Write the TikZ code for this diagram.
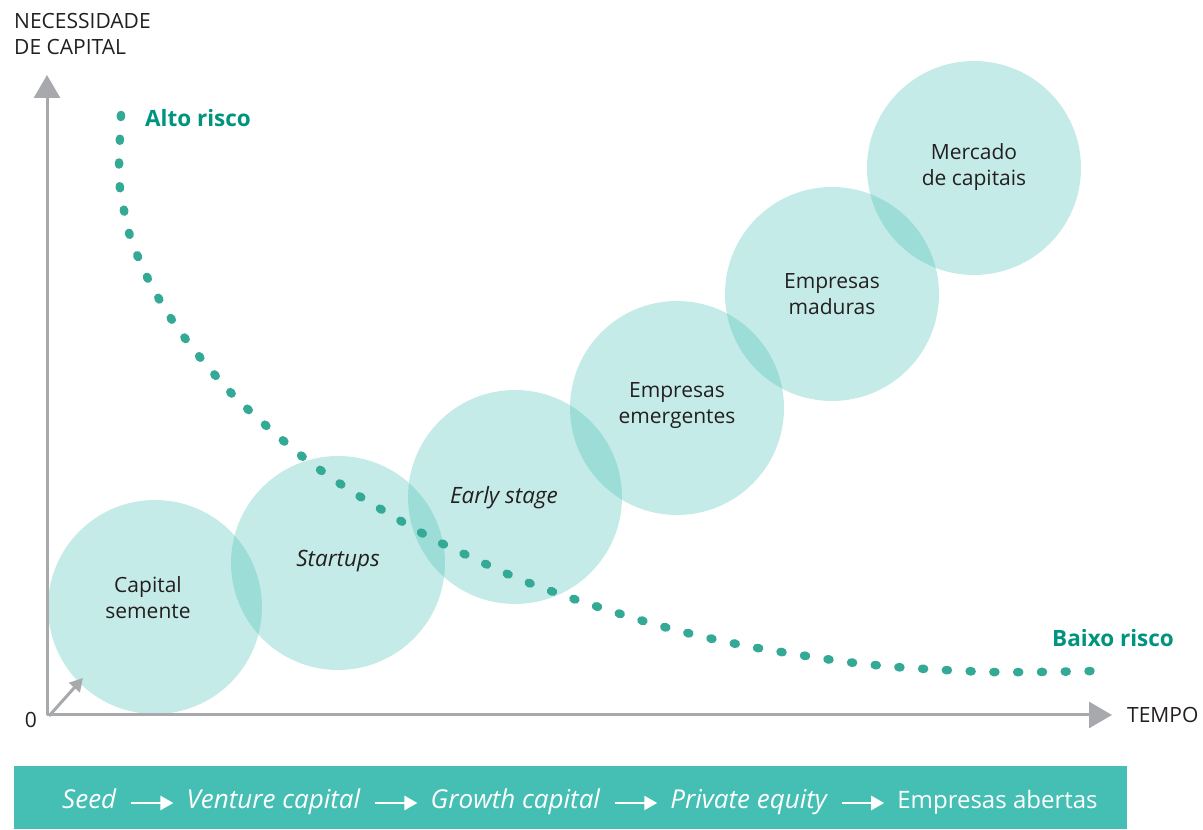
\documentclass[tikz,border=0pt]{standalone}
\usepackage{fontspec}
\setmainfont{Open Sans}
\usetikzlibrary{arrows.meta,positioning}

\definecolor{axisgray}{RGB}{167,169,172}
\definecolor{barteal}{RGB}{69,191,180}
\definecolor{dotteal}{RGB}{52,170,150}
\definecolor{risktext}{RGB}{0,148,126}
\definecolor{inktext}{RGB}{35,31,32}

\tikzset{
    bubble/.style={circle, fill=barteal, fill opacity=0.31, minimum size=214pt, inner sep=0pt},
    bubbletext/.style={align=center, text=inktext, inner sep=0pt, font=\fontsize{21}{26}\selectfont},
    slanttext/.style={bubbletext, font=\fontsize{22.5}{26}\selectfont\itshape},
    axis/.style={axisgray, line width=3pt, -{Triangle[length=23pt,width=26pt]}},
    dotcurve/.style={dotteal, line width=8.5pt, line cap=round, dash pattern=on 2pt off 21.78pt},
    risklabel/.style={anchor=west, inner sep=0pt, text=risktext, font=\fontsize{22.5}{26}\selectfont\bfseries},
    axislabel/.style={inner sep=0pt, text=inktext, font=\fontsize{21}{26}\selectfont},
    barlabel/.style={text=white, inner sep=0pt, text height=18pt, text depth=6pt, font=\fontsize{26}{30}\selectfont\itshape},
    flowarrow/.style={white, line width=2.5pt, -{Triangle[length=13pt,width=14pt]}, shorten <=15pt, shorten >=13pt},
}

\begin{document}
\begin{tikzpicture}[x=1pt, y=1pt]
        \useasboundingbox (0,0) rectangle (1203,830);

        % stages
        \foreach \i/\cx/\cy in {1/155/223, 2/338/267, 3/515/333, 4/677/422, 5/832/536, 6/974/662} {
            \node[bubble] (c\i) at (\cx,\cy) {};
        }
        \node[bubbletext] (t1) at (148,232) {Capital\\semente};
        \node[slanttext] (t2) at (338,269) {Startups};
        \node[slanttext] (t3) at (504,332) {Early stage};
        \node[bubbletext] (t4) at (677,424) {Empresas\\emergentes};
        \node[bubbletext] (t5) at (832,536) {Empresas\\maduras};
        \node[bubbletext] (t6) at (974,663) {Mercado\\de capitais};

        % risk
        \draw[dotcurve] plot[smooth] coordinates {(121,715) (119,665) (120,642) (130,594)
            (149,549) (174,507) (203,469) (235,433) (271,400) (308,369) (348,341)
            (389,316) (431,292) (475,271) (519,251) (565,234) (611,219) (657,205)
            (704,193) (752,183) (800,175) (847,168) (896,163) (944,160) (992,158)
            (1041,158) (1091,159)};
        \node[risklabel] (alto) at (145,712) {Alto risco};
        \node[risklabel] (baixo) at (1052,192) {Baixo risco};

        % axes
        \coordinate (origin) at (47,115);
        \coordinate (ytop) at (47,755);
        \coordinate (xend) at (1112,115);
        \coordinate (start) at (49,114);
        \coordinate (push) at (83,152);
        \draw[axis] (origin) -- (ytop);
        \draw[axis] (origin) -- (xend);
        \draw[axisgray, line width=3pt, -{Triangle[length=13pt,width=14pt]}] (start) -- (push);
        \node[axislabel, anchor=north west, align=left] (ylabel) at (14,817) {NECESSIDADE\\DE CAPITAL};
        \node[axislabel, anchor=west] (xlabel) at (1127,115) {TEMPO};
        \node[axislabel] (zero) at (31,110) {0};

        % funding
        \fill[barteal] (14,1) rectangle (1127,64);
        \node[barlabel, anchor=west] (seed) at (62,27) {Seed};
        \node[barlabel, right=70pt of seed] (venture) {Venture capital};
        \node[barlabel, right=70pt of venture] (growth) {Growth capital};
        \node[barlabel, right=70pt of growth] (equity) {Private equity};
        \node[barlabel, right=70pt of equity, font=\fontsize{24}{28}\selectfont] (abertas) {Empresas abertas};
        \foreach \a/\b in {seed/venture, venture/growth, growth/equity, equity/abertas} {
            \draw[flowarrow] (\a) -- (\b);
        }
    \end{tikzpicture}
\end{document}
